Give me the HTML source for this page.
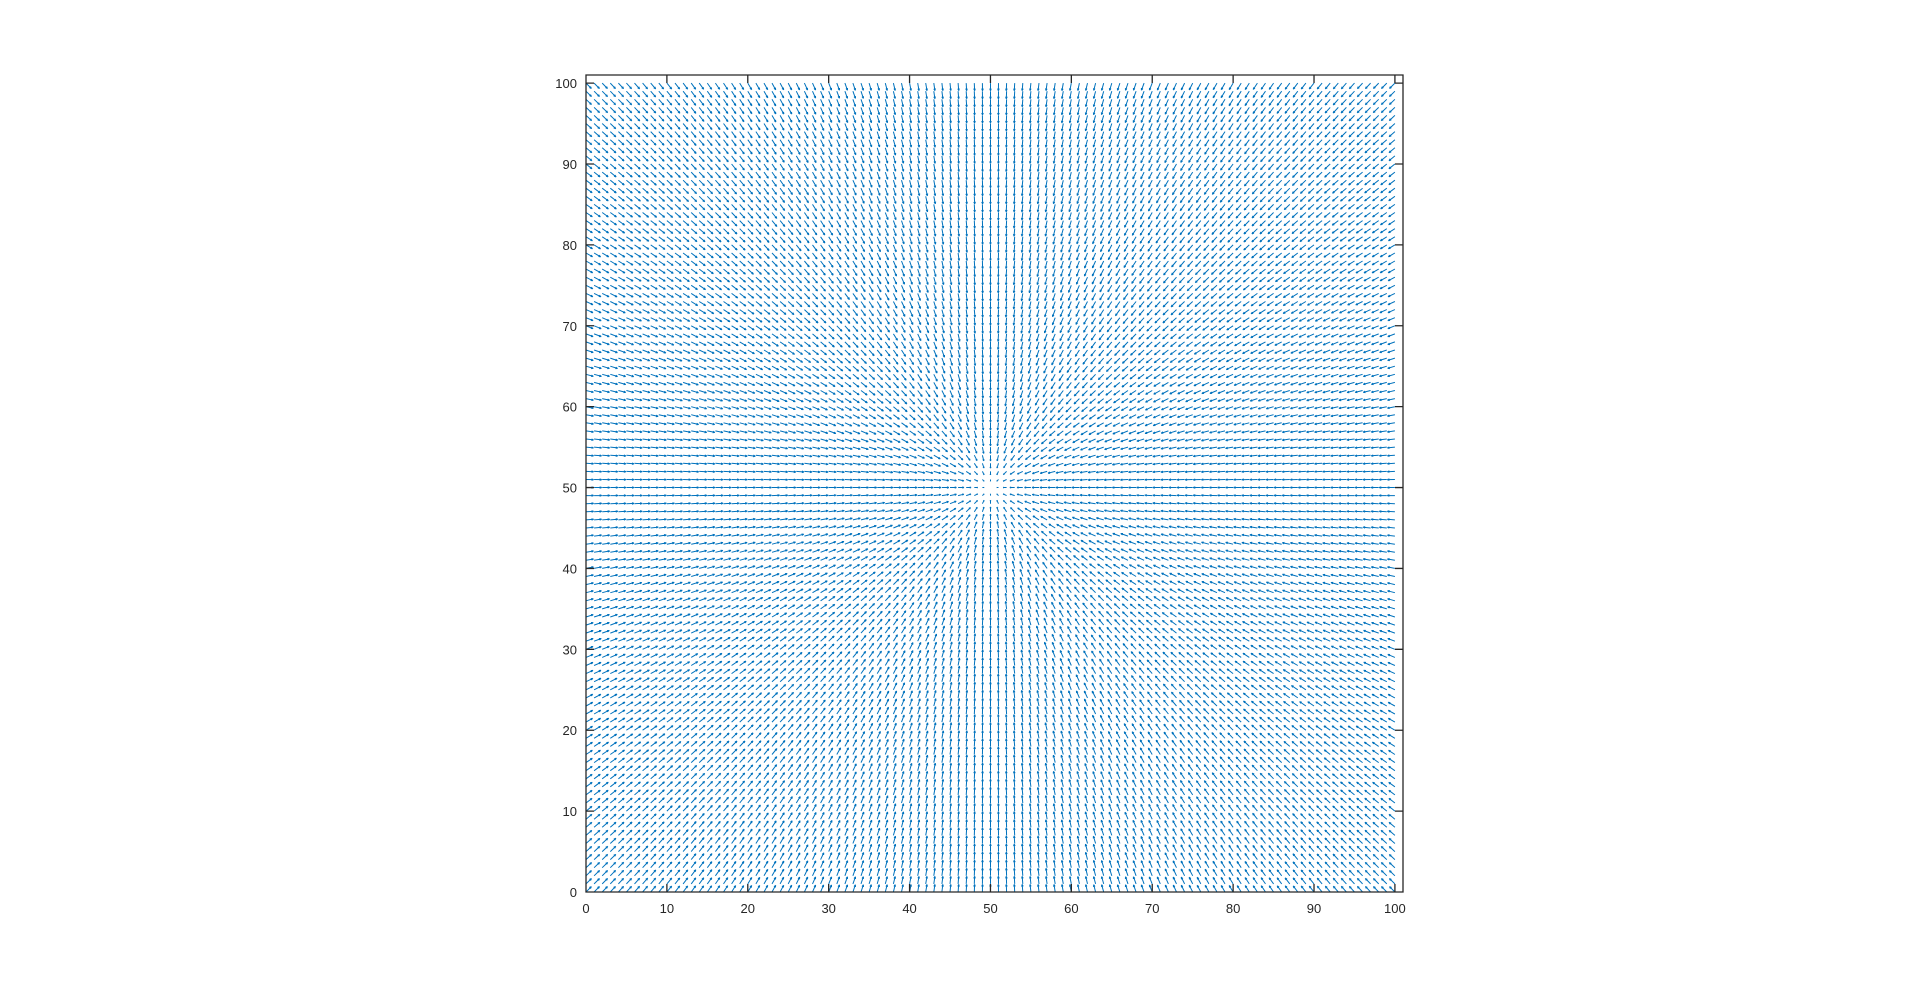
<!DOCTYPE html>
<html><head><meta charset="utf-8"><style>
body{margin:0;background:#fff;}
svg{display:block;}
text{font-family:"Liberation Sans",sans-serif;font-size:13px;fill:#262626;}
</style></head><body>
<svg id="chart" width="1920" height="1003">
<g id="field"></g>
<g id="axes"></g>
</svg>
<script>
const xTicks=[0,10,20,30,40,50,60,70,80,90,100];
const yTicks=[0,10,20,30,40,50,60,70,80,90,100];
const xLim=[0,101];
const yLim=[0,101];
const center=[50,50];
const gridStep=[1];
const maxLen=[0.95];
const L=586,R=1403,T=75,B=892;
const sx=v=>L+(v-xLim[0])/(xLim[1]-xLim[0])*(R-L);
const sy=v=>B-(v-yLim[0])/(yLim[1]-yLim[0])*(B-T);
const NS='http://www.w3.org/2000/svg';
let d='';
for(let x=0;x<=100;x+=gridStep[0]){
 for(let y=0;y<=100;y+=gridStep[0]){
  const dx=center[0]-x,dy=center[1]-y;const r=Math.hypot(dx,dy);
  if(r===0)continue;
  const len=maxLen[0]*Math.tanh(r/4);
  const ux=dx/r*len,uy=dy/r*len;
  const x0=sx(x),y0=sy(y),x1=sx(x+ux),y1=sy(y+uy);
  d+=`M${x0.toFixed(1)} ${y0.toFixed(1)}L${x1.toFixed(1)} ${y1.toFixed(1)}`;
  const a=Math.atan2(y1-y0,x1-x0),hl=Math.hypot(x1-x0,y1-y0)*0.3;
  for(const s of [-0.35,0.35]){
   d+=`M${x1.toFixed(1)} ${y1.toFixed(1)}L${(x1-hl*Math.cos(a+s)).toFixed(1)} ${(y1-hl*Math.sin(a+s)).toFixed(1)}`;
  }
 }
}
const p=document.createElementNS(NS,'path');
p.setAttribute('d',d);p.setAttribute('stroke','#0072BD');p.setAttribute('stroke-width','1');p.setAttribute('fill','none');


document.getElementById('field').appendChild(p);
const ax=document.getElementById('axes');
let ad=`M${L} ${T}H${R}V${B}H${L}Z`;
xTicks.forEach(t=>{const x=sx(t);ad+=`M${x} ${B}V${B-8}M${x} ${T}V${T+8}`;
 const tx=document.createElementNS(NS,'text');tx.setAttribute('x',x);tx.setAttribute('y',B+21);tx.setAttribute('text-anchor','middle');tx.textContent=t;
 
 
 ax.appendChild(tx);});
yTicks.forEach(t=>{const y=sy(t);ad+=`M${L} ${y}H${L+8}M${R} ${y}H${R-8}`;
 const tx=document.createElementNS(NS,'text');tx.setAttribute('x',L-9);tx.setAttribute('y',y+5);tx.setAttribute('text-anchor','end');tx.textContent=t;
 
 
 ax.appendChild(tx);});
const ap=document.createElementNS(NS,'path');
ap.setAttribute('d',ad);ap.setAttribute('stroke','#262626');ap.setAttribute('fill','none');ap.setAttribute('stroke-width','1.3');


ax.appendChild(ap);
</script>
</body></html>
